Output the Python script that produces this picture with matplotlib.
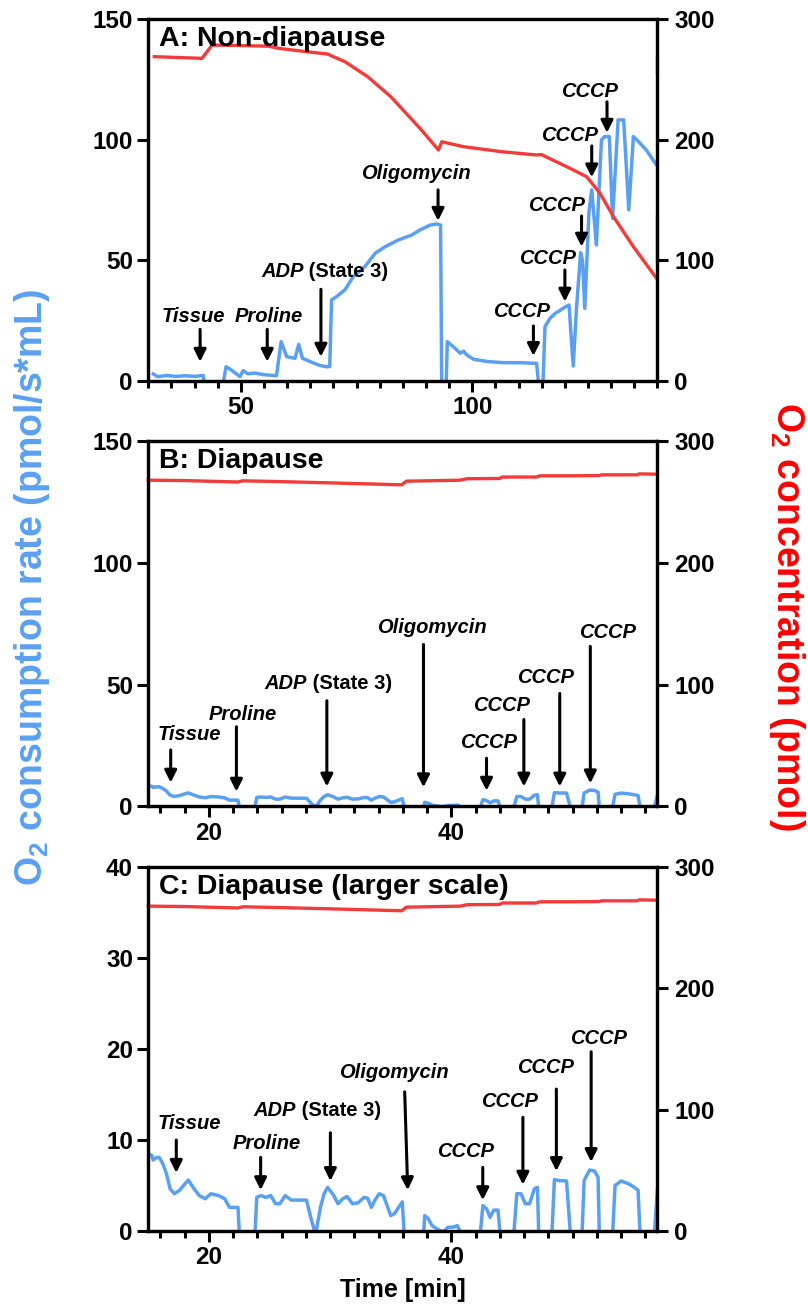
import numpy as np
import matplotlib.pyplot as plt
from matplotlib.ticker import MultipleLocator

plt.rcParams['font.family'] = ['Liberation Sans', 'DejaVu Sans']
plt.rcParams['font.weight'] = 'bold'
plt.rcParams['axes.labelweight'] = 'bold'
plt.rcParams['mathtext.default'] = 'regular'

BLUE = '#5AA0F2'
RED = '#F23B3B'

# ---- panel A (non-diapause): O2 flux (left axis) ----
a_time = [31.1, 32.0, 34.0, 36.0, 38.0, 40.0, 41.9, 42.2, 45.8, 46.8,
          48.0, 49.8, 50.5, 51.5, 53.0, 55.0, 57.7, 58.7, 59.9, 61.7,
          62.5, 63.3, 65.0, 67.0, 68.5, 69.2, 69.6, 70.7, 72.5, 74.3,
          76.8, 79.0, 81.2, 84.1, 86.9, 88.7, 90.9, 92.3, 93.15, 93.4,
          94.3, 94.6, 95.9, 97.4, 98.1, 98.8, 100.3, 103.1, 106.7, 110.3,
          113.9, 114.5, 115.2, 115.7, 116.8, 117.9, 118.9, 120.0, 120.9, 121.3,
          121.8, 122.5, 123.4, 123.8, 124.3, 125.2, 125.8, 126.8, 127.9, 128.6,
          129.6, 130.3, 131.5, 132.7, 133.8, 134.8, 135.9, 137.6, 139.8]
a_flux = [2.9, 1.8, 2.3, 1.9, 2.2, 1.9, 2.3, -5, -5, 5.9,
          4.5, 1.8, 4.3, 3.0, 3.3, 2.6, 2.2, 16.3, 10.1, 9.4,
          15.2, 9.4, 8.0, 6.5, 5.9, 6.0, 33.6, 35.0, 37.8, 43.3,
          47.4, 52.9, 55.7, 58.5, 60.5, 62.6, 64.6, 65.1, 64.6, -5,
          -5, 16.3, 14.2, 11.5, 12.4, 10.8, 9.0, 8.1, 7.6, 7.6,
          7.3, -5, -5, 22.5, 26.0, 28.0, 29.2, 30.6, 31.5, 20.0,
          6.2, 30.0, 53.2, 50.0, 30.1, 70.0, 79.2, 56.4, 99.9, 101.3,
          101.3, 67.4, 108.2, 108.2, 70.9, 101.3, 99.2, 95.7, 89.5]

# O2 concentration (right axis)
a_o2_time = [31.3, 41.6, 43.8, 50.0, 55.9, 58.2, 64.2, 68.7, 72.5, 77.4,
             82.4, 88.7, 92.7, 93.4, 98.1, 106.4, 113.9, 114.9, 121.1, 124.7,
             127.6, 130.5, 134.8, 139.8, np.nan, 140, 140, np.nan, 140, 140]
a_o2 = [268.8, 267.4, 278.4, 278.0, 277.5, 275.7, 272.9, 271.0, 264.6, 252.2,
        235.6, 209.4, 191.4, 198.3, 194.2, 190.0, 187.3, 187.7, 176.3, 169.3,
        155.5, 136.2, 111.3, 85.1, np.nan, 99, 136, np.nan, 256, 268]

# ---- panels B and C (diapause, same trace) ----
d_time = [15.0, 15.3, 15.4, 15.7, 15.9, 16.2, 16.5, 16.8, 17.15, 17.6,
          17.9, 18.3, 18.7, 19.2, 19.7, 20.15, 20.8, 21.3, 21.7, 22.4,
          22.5, 22.7, 23.7, 23.95, 24.3, 24.7, 25.1, 25.5, 25.85, 26.3,
          26.8, 28.05, 28.4, 28.7, 28.85, 29.2, 29.5, 29.8, 30.3, 30.65,
          31.05, 31.4, 31.85, 32.3, 32.8, 33.1, 33.4, 33.7, 34.05, 34.4,
          35.0, 35.3, 35.95, 36.1, 36.3, 37.6, 37.8, 38.1, 38.4, 38.8,
          39.1, 39.4, 39.7, 40.2, 40.5, 40.7, 40.9, 42.2, 42.6, 42.9,
          43.2, 43.5, 43.85, 44.0, 44.2, 45.0, 45.4, 45.75, 46.1, 46.45,
          46.85, 47.1, 47.2, 47.4, 48.2, 48.5, 48.9, 49.5, 49.8, 50.0,
          50.7, 50.95, 51.4, 51.8, 52.1, 52.2, 52.4, 53.2, 53.5, 54.0,
          54.6, 55.1, 55.4, 55.55, 55.7, 56.6, 57.0]
d_flux = [8.5, 8.3, 7.8, 8.1, 8.1, 7.4, 6.3, 4.65, 4.1, 4.5,
          5.0, 5.6, 4.8, 3.9, 3.55, 4.1, 3.9, 3.55, 2.6, 2.6,
          0.0, -3, -3, 3.7, 3.9, 3.7, 3.9, 3.0, 3.0, 3.9,
          3.4, 3.4, 1.5, 0.1, 0.0, 2.6, 4.1, 4.8, 3.9, 3.0,
          3.55, 3.8, 3.0, 3.1, 3.7, 3.6, 2.6, 3.4, 4.1, 3.9,
          1.7, 1.9, 3.2, 0.0, -3, -3, 1.7, 1.35, 0.6, 0.25,
          0.0, 0.0, 0.4, 0.45, 0.6, 0.0, -3, -3, 2.8, 2.45,
          1.5, 2.3, 2.3, 0.0, -3, -3, 4.1, 4.1, 3.0, 3.0,
          4.65, 4.8, 0.0, -3, -3, 5.65, 5.55, 5.5, 0.0, -3,
          -3, 5.55, 6.7, 6.6, 5.9, 0.0, -3, -3, 5.0, 5.5,
          5.2, 4.8, 4.5, 0.0, -3, -3, 4.65]

d_o2_time = [15.0, 18.0, 22.4, 22.8, 26.0, 30.0, 33.0, 35.9, 36.3, 38.0, 40.7,
             41.3, 44.0, 44.2, 47.0, 47.3, 50.0, 52.2, 52.4, 55.3, 55.5, 57.0]
d_o2 = [267.8, 267.5, 266.3, 267.3, 266.6, 265.6, 264.8, 264.0, 267.0, 267.3, 267.8,
        269.0, 269.2, 270.4, 270.4, 271.4, 271.4, 271.6, 272.2, 272.2, 273.0, 272.7]

# annotations: label, text x, text y, arrow x start, y start, x end, y end
a_notes = [
    ('Tissue', 39.65, 26.8, 41.2, 21.4, 41.2, 8.0),
    ('Proline', 56.1, 26.8, 55.7, 21.4, 55.7, 8.0),
    ('ADP', 63.5, 45.3, 67.3, 38.0, 67.3, 10.1),
    ('Oligomycin', 87.75, 86.1, 92.6, 79.2, 92.6, 66.4),
    ('CCCP', 110.6, 28.7, 113.2, 22.8, 113.2, 10.4),
    ('CCCP', 116.3, 50.8, 120.0, 46.0, 120.0, 32.9),
    ('CCCP', 118.2, 72.9, 123.6, 68.4, 123.6, 55.7),
    ('CCCP', 120.9, 101.9, 125.8, 97.4, 125.8, 84.4),
    ('CCCP', 125.2, 119.9, 129.1, 115.7, 129.1, 102.9),
]
b_notes = [
    ('Tissue', 18.36, 29.6, 16.85, 23.2, 16.85, 9.8),
    ('Proline', 22.8, 37.8, 22.27, 32.7, 22.27, 6.1),
    ('ADP', 28.09, 50.5, 29.73, 43.4, 29.73, 8.2),
    ('Oligomycin', 38.36, 73.6, 37.7, 66.5, 37.7, 7.9),
    ('CCCP', 43.02, 26.2, 42.9, 19.8, 42.9, 6.5),
    ('CCCP', 44.1, 41.6, 45.98, 35.7, 45.98, 8.2),
    ('CCCP', 47.8, 52.9, 48.94, 46.4, 48.94, 8.2),
    ('CCCP', 52.85, 71.5, 51.46, 65.7, 51.46, 9.5),
]
c_notes = [
    ('Tissue', 18.39, 11.8, 17.31, 10.0, 17.31, 6.4),
    ('Proline', 24.77, 9.6, 24.27, 8.1, 24.27, 4.5),
    ('ADP', 27.17, 13.3, 30.02, 10.8, 30.02, 5.5),
    ('Oligomycin', 35.26, 17.4, 36.15, 15.3, 36.4, 4.5),
    ('CCCP', 41.17, 8.7, 42.59, 7.0, 42.59, 3.4),
    ('CCCP', 44.8, 14.2, 45.9, 12.5, 45.9, 5.1),
    ('CCCP', 47.74, 18.0, 48.66, 15.6, 48.66, 6.6),
    ('CCCP', 52.16, 21.2, 51.53, 19.7, 51.53, 7.6),
]


def style_axes(ax, ax2):
    for a in (ax, ax2):
        for s in a.spines.values():
            s.set_linewidth(2.3)
        a.tick_params(which='major', length=8, width=2.2, labelsize=17.5, pad=3)
        a.tick_params(which='minor', length=5, width=2.2)
    ax2.tick_params(axis='y', pad=4)


def draw_panel(rect, title, xt, yv, xo, yo, xlim, ylim, ystep, xmaj, xmin_step, notes):
    ax = fig.add_axes(rect)
    ax2 = ax.twinx()
    ax.plot(xt, yv, color=BLUE, lw=2.5, solid_joinstyle='round')
    ax2.plot(xo, yo, color=RED, lw=2.4, clip_on=False)
    ax.set_xlim(*xlim)
    ax.set_ylim(*ylim)
    ax2.set_ylim(0, 300)
    ax.yaxis.set_major_locator(MultipleLocator(ystep))
    ax2.yaxis.set_major_locator(MultipleLocator(100))
    ax.xaxis.set_major_locator(MultipleLocator(xmaj))
    ax.xaxis.set_minor_locator(MultipleLocator(xmin_step))
    style_axes(ax, ax2)
    for lab, tx, ty, x0, y0, x1, y1 in notes:
        ax.annotate('', xy=(x1, y1), xytext=(x0, y0),
                    arrowprops=dict(arrowstyle='-|>', color='black', lw=2.2,
                                    mutation_scale=18, shrinkA=0, shrinkB=0))
        if lab == 'ADP':
            ax.text(tx, ty, 'ADP', style='italic', fontsize=14.5,
                    ha='right', va='center')
            ax.text(tx, ty, ' (State 3)', fontsize=14.5, ha='left', va='center')
        else:
            ax.text(tx, ty, lab, style='italic', fontsize=14.5,
                    ha='center', va='center')
    ax2.text(0.022, 0.945, title, transform=ax.transAxes, fontsize=20.5,
             ha='left', va='center')
    return ax


fig = plt.figure(figsize=(8.08, 13.12), dpi=100)
left, width = 0.1835, 0.6302

draw_panel([left, 0.7096, width, 0.2759], 'A: Non-diapause', a_time, a_flux,
           a_o2_time, a_o2, (30, 140), (0, 150), 50, 50, 5, a_notes)
draw_panel([left, 0.3853, width, 0.2786], 'B: Diapause', d_time, d_flux,
           d_o2_time, d_o2, (15, 57), (0, 150), 50, 20, 2, b_notes)
axc = draw_panel([left, 0.0617, width, 0.2774], 'C: Diapause (larger scale)', d_time, d_flux,
                 d_o2_time, d_o2, (15, 57), (0, 40), 10, 20, 2, c_notes)
axc.set_xlabel('Time [min]', fontsize=18, fontweight='bold', labelpad=6)

fig.text(0.040, 0.552, 'O$_2$ consumption rate (pmol/s*mL)', color=BLUE,
         fontsize=27, rotation=90, ha='center', va='center')
fig.text(0.974, 0.530, 'O$_2$ concentration (pmol)', color='#FF0000',
         fontsize=27, rotation=270, ha='center', va='center')

fig.savefig('out.png', dpi=100)
